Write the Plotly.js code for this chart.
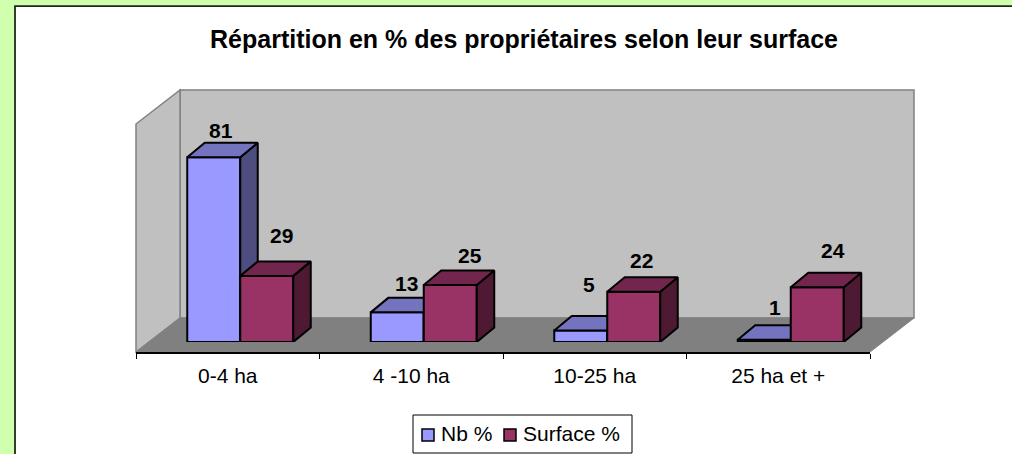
<!DOCTYPE html>
<html>
<head>
<meta charset="utf-8">
<script src="https://cdn.plot.ly/plotly-3.0.1.min.js"></script>
<style>html,body{margin:0;padding:0;background:#D0FFAE;overflow:hidden}</style>
</head>
<body>
<div id="chart" style="width:1012px;height:454px"></div>
<script>
const categories = ["0-4 ha", "4 -10 ha", "10-25 ha", "25 ha et +"];
const nbValues = [81, 13, 5, 1];
const surfaceValues = [29, 25, 22, 24];
const nbName = "Nb %";
const surfaceName = "Surface %";
const chartTitle = "Répartition en % des propriétaires selon leur surface";
const nbLabelShift = [[7, 27], [9, 29], [8, 46], [11, 32]];
const surfaceLabelShift = [[15, 40], [20, 30], [8, 31], [16, 37]];

const W = 1012, H = 454;
const px = x => x / W, py = y => 1 - y / H;
const FONT = '"Liberation Sans", Arial, sans-serif';
const frontL = 136, frontR = 870, frontY = 352, backL = 180, backR = 914, backY = 318, topY = 90, leftTop = 124;
const barL = 148.5, barR = 882.5, barB = 342, barT = 114;
const unitX = (barR - barL) / 4, unitY = (barB - barT) / 100;
const depthX = 17.5 / unitX, depthY = 14.5 / unitY, barW = 53 / unitX;
const idx = categories.map((_, i) => i);
const nbColor = '#9999FF', surfaceColor = '#993366';

function faces(values, off) {
  const top = {x: [], y: []}, side = {x: [], y: []};
  values.forEach((v, i) => {
    const a = i + off, b = a + barW;
    top.x.push(a, a + depthX, b + depthX, b, a, null);
    top.y.push(v, v + depthY, v + depthY, v, v, null);
    side.x.push(b, b + depthX, b + depthX, b, b, null);
    side.y.push(0, depthY, v + depthY, v, 0, null);
  });
  return {top, side};
}
function series(values, name, color, topColor, sideColor, off, xa, ya) {
  const f = faces(values, off);
  const ln = {color: '#000', width: 2};
  const poly = (p, c) => ({type: 'scatter', mode: 'lines', x: p.x, y: p.y, fill: 'toself', fillcolor: c,
    line: ln, xaxis: xa, yaxis: ya, showlegend: false, hoverinfo: 'skip'});
  return [
    poly(f.side, sideColor),
    poly(f.top, topColor),
    {type: 'bar', x: idx, y: values, name: name, width: barW, offset: off, xaxis: xa, yaxis: ya, showlegend: false,
     marker: {color: color, line: {color: '#000', width: 2}}}
  ];
}

const traces = [
  {type: 'scatter', mode: 'markers', x: categories, y: categories.map(() => 0), marker: {opacity: 0},
   xaxis: 'x', yaxis: 'y', showlegend: false, hoverinfo: 'skip'},
  ...series(nbValues, nbName, nbColor, '#7373BF', '#4D4D80', -barW, 'x2', 'y2'),
  ...series(surfaceValues, surfaceName, surfaceColor, '#73264D', '#4D1933', 0, 'x3', 'y3')
];

function labels(values, off, shift, xref, yref) {
  return values.map((v, i) => ({
    text: String(v), x: i + off + barW / 2, y: v, xref, yref, showarrow: false,
    xanchor: 'center', yanchor: 'middle', xshift: shift[i][0], yshift: shift[i][1],
    font: {family: FONT, size: 21, color: '#000', weight: 'bold'}
  }));
}

const poly = (pts, fill, line, w) => ({
  type: 'path', xref: 'paper', yref: 'paper', layer: 'below',
  path: 'M' + pts.map(p => px(p[0]) + ',' + py(p[1])).join('L') + 'Z',
  fillcolor: fill, line: {color: line, width: w}
});
const box = (x0, y0, x1, y1, fill, w) => ({type: 'rect', xref: 'paper', yref: 'paper', layer: 'above',
  x0: px(x0), x1: px(x1), y0: py(y1), y1: py(y0), fillcolor: fill, line: {color: '#000', width: w}});
const legendText = (t, x) => ({text: t, xref: 'paper', yref: 'paper', x: px(x), y: py(433), xanchor: 'left', yanchor: 'middle',
  showarrow: false, xshift: -2, font: {family: FONT, size: 21, color: '#000'}});

const xDomain = [px(barL), px(barR)], yDomain = [py(barB), py(barT)];
const hidden = {visible: false, fixedrange: true};

const layout = {
  width: W, height: H, margin: {l: 0, r: 0, t: 0, b: 0},
  paper_bgcolor: '#D0FFAE', plot_bgcolor: 'rgba(0,0,0,0)',
  showlegend: false,
  title: {text: '<b>' + chartTitle + '</b>', font: {family: FONT, size: 25, color: '#000'},
          x: 524 / W, xanchor: 'center', y: py(39), yanchor: 'middle'},
  xaxis: {type: 'category', domain: [px(frontL), px(frontR)], range: [-0.5, 3.5], categoryorder: 'array', categoryarray: categories,
          tickson: 'boundaries', ticks: 'outside', ticklen: 5, tickwidth: 1, tickcolor: '#000', showline: true, linecolor: '#000', linewidth: 1.5,
          showgrid: false, zeroline: false, tickfont: {family: FONT, size: 21, color: '#000'}, ticklabelstandoff: 4, fixedrange: true, anchor: 'y'},
  yaxis: {domain: [py(frontY), py(frontY - 50)], range: [0, 1], ...hidden, anchor: 'x'},
  xaxis2: {domain: xDomain, range: [-0.5, 3.5], ...hidden, anchor: 'y2'},
  yaxis2: {domain: yDomain, range: [0, 100], ...hidden, anchor: 'x2'},
  xaxis3: {domain: xDomain, range: [-0.5, 3.5], ...hidden, overlaying: 'x2', anchor: 'y3'},
  yaxis3: {domain: yDomain, range: [0, 100], ...hidden, overlaying: 'y2', anchor: 'x3'},
  shapes: [
    {type: 'rect', xref: 'paper', yref: 'paper', layer: 'below', x0: px(15), x1: 1.01, y0: -0.01, y1: py(6.2), fillcolor: '#fff', line: {color: '#1f2a1a', width: 1.8}},
    poly([[backL, topY], [backR, topY], [backR, backY], [backL, backY]], '#C0C0C0', '#808080', 1.5),
    poly([[frontL, leftTop], [backL, topY], [backL, backY], [frontL, frontY]], '#C0C0C0', '#808080', 1.5),
    poly([[frontL, frontY], [backL, backY], [backR, backY], [frontR, frontY]], '#808080', '#808080', 1),
    box(413, 415, 632, 453, '#fff', 1),
    box(422, 429, 434, 441, nbColor, 1.5),
    box(504, 429, 516, 441, surfaceColor, 1.5)
  ],
  annotations: [
    ...labels(nbValues, -barW, nbLabelShift, 'x2', 'y2'),
    ...labels(surfaceValues, 0, surfaceLabelShift, 'x3', 'y3'),
    legendText(nbName, 441),
    legendText(surfaceName, 523)
  ]
};
Plotly.newPlot('chart', traces, layout, {displayModeBar: false, staticPlot: true, responsive: false});
</script>
</body>
</html>
